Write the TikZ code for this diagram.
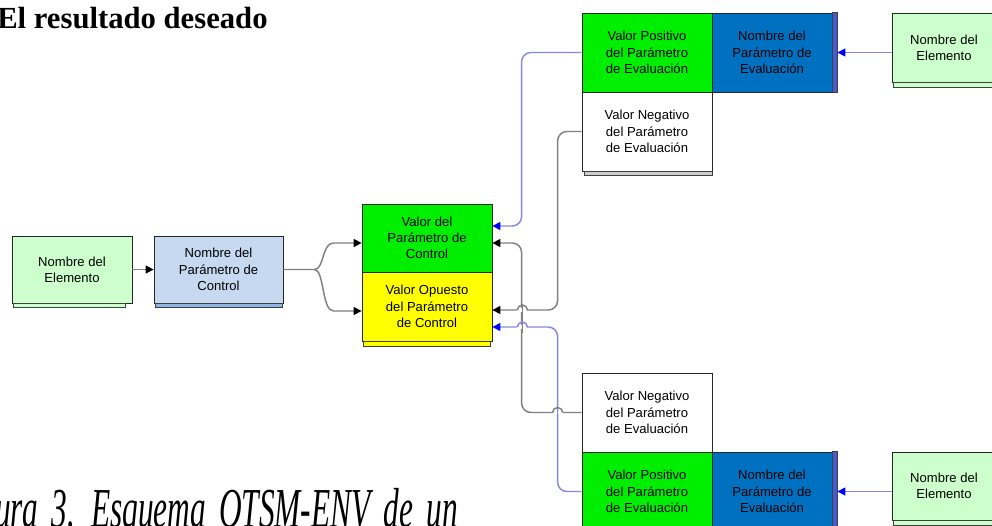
\documentclass[tikz,border=0pt]{standalone}
\usepackage{fontspec}
\setmainfont{Liberation Serif}
\newfontfamily\boxfont{Liberation Sans}
\usepackage{graphicx}
\usepackage{xcolor}
\usetikzlibrary{arrows.meta,calc}
\definecolor{otpale}{RGB}{204,255,204}
\definecolor{otsky}{RGB}{198,217,240}
\definecolor{otskydark}{RGB}{141,180,226}
\definecolor{otgreen}{RGB}{0,238,0}
\definecolor{otyellow}{RGB}{255,255,0}
\definecolor{otblue}{RGB}{0,112,192}
\definecolor{otindigo}{RGB}{70,90,210}
\definecolor{otline}{RGB}{128,128,128}
\definecolor{otlilac}{RGB}{135,135,225}
\tikzset{
  otbox/.style={draw=black!85, line width=0.6pt, inner sep=1pt, align=center,
    font=\boxfont\fontsize{9.8}{12.2}\selectfont},
  otelem/.style={otbox, fill=otpale},
  otctrl/.style={otbox, fill=otsky},
  otgreenbox/.style={otbox, fill=otgreen},
  otyellowbox/.style={otbox, fill=otyellow},
  otwhitebox/.style={otbox, fill=white},
  otbluebox/.style={otbox, fill=otblue},
  otshade/.style={draw=black!75, line width=0.5pt},
  otgreyline/.style={draw=otline, line width=1.1pt, rounded corners=7pt,
    -{Triangle[length=6pt,width=6pt,color=black]}},
  otlilacline/.style={draw=otlilac, line width=1.1pt, rounded corners=7pt,
    -{Triangle[length=6pt,width=6pt,color=blue]}},
  oterase/.style={draw=white, line width=2.6pt},
  othop/.style={line width=1.1pt},
}
\begin{document}
\begin{tikzpicture}[x=0.75pt,y=-0.75pt]
\useasboundingbox (0,0) rectangle (992,525);
\clip (0,0) rectangle (992,525);
% title and caption
\node[anchor=base west, inner sep=0pt, font=\bfseries\fontsize{23}{27}\selectfont] (title) at (-3,28) {El resultado deseado};
\node[anchor=base east, inner sep=0pt] (caption) at (458,527) {\scalebox{1}[1.8]{\itshape\fontsize{23.5}{28}\selectfont\spaceskip=0.42em Figura 3. Esquema OTSM-ENV de un}};
% boxes
\node[otelem, minimum width=90pt, minimum height=50.25pt] (elemL) at (72,269.5) {Nombre del\\Elemento};
\node[otctrl, minimum width=96.75pt, minimum height=50.25pt] (ctrl) at (218.5,269.5) {Nombre del\\Parámetro de\\Control};
\node[otgreenbox, minimum width=97.5pt, minimum height=51pt] (valCtrl) at (427,238) {Valor del\\Parámetro de\\Control};
\node[otyellowbox, minimum width=97.5pt, minimum height=51.75pt] (oppCtrl) at (427,306.5) {Valor Opuesto\\del Parámetro\\de Control};
\node[otgreenbox, minimum width=97.5pt, minimum height=59.25pt] (posTop) at (647,52.5) {Valor Positivo\\del Parámetro\\de Evaluación};
\node[otbluebox, minimum width=90pt, minimum height=59.25pt] (nameTop) at (772,52.5) {Nombre del\\Parámetro de\\Evaluación};
\node[otwhitebox, minimum width=97.5pt, minimum height=59.25pt] (negTop) at (647,131.5) {Valor Negativo\\del Parámetro\\de Evaluación};
\node[otelem, minimum width=78pt, minimum height=51.75pt] (elemTR) at (944,47.5) {Nombre del\\Elemento};
\node[otwhitebox, minimum width=97.5pt, minimum height=59.25pt] (negBot) at (647,412.5) {Valor Negativo\\del Parámetro\\de Evaluación};
\node[otgreenbox, minimum width=97.5pt, minimum height=59.25pt] (posBot) at (647,491.5) {Valor Positivo\\del Parámetro\\de Evaluación};
\node[otbluebox, minimum width=90pt, minimum height=59.25pt] (nameBot) at (772,491.5) {Nombre del\\Parámetro de\\Evaluación};
\node[otelem, minimum width=78pt, minimum height=51pt] (elemBR) at (944,486) {Nombre del\\Elemento};
% shadows
\filldraw[otshade, fill=otpale] ([xshift=1.5pt]elemL.south west) rectangle ([xshift=-5pt,yshift=-3pt]elemL.south east);
\filldraw[otshade, fill=otskydark] ([xshift=1.5pt]ctrl.south west) rectangle ([xshift=-1pt,yshift=-3pt]ctrl.south east);
\filldraw[otshade, fill=otyellow] ([xshift=1.5pt]oppCtrl.south west) rectangle ([xshift=-1.5pt,yshift=-3.5pt]oppCtrl.south east);
\filldraw[otshade, fill=black!20] ([xshift=2pt]negTop.south west) rectangle ([yshift=-3pt]negTop.south east);
\filldraw[otshade, fill=otindigo] (nameTop.north east) rectangle ([xshift=3.75pt]nameTop.south east);
\filldraw[otshade, fill=otindigo] (nameBot.north east) rectangle ([xshift=3.75pt]nameBot.south east);
\filldraw[otshade, fill=otpale] ([xshift=1.5pt]elemTR.south west) rectangle ([yshift=-3.5pt]elemTR.south east);
\filldraw[otshade, fill=otpale] ([xshift=1.5pt]elemBR.south west) rectangle ([yshift=-3.5pt]elemBR.south east);
% connectors
\draw[otgreyline] (elemL.east) -- (ctrl.west);
\draw[otgreyline, rounded corners=0pt] (ctrl.east) -- ++(31,0) coordinate (fork)
  .. controls +(10,0) and +(-12,0) .. ($(valCtrl.west)+(-28,5)$) -- ($(valCtrl.west)+(0,5)$);
\draw[otgreyline, rounded corners=0pt] (fork)
  .. controls +(10,0) and +(-12,0) .. ($(oppCtrl.west)+(-28,4.5)$) -- ($(oppCtrl.west)+(0,4.5)$);
\draw[otlilacline] (posTop.west) -- ++(-60,0) |- ($(valCtrl.east)+(0,-12)$);
\draw[otgreyline] (negTop.west) -- ++(-24,0) |- ($(oppCtrl.east)+(0,3.5)$);
\draw[otlilacline] (posBot.west) -- ++(-24,0) |- ($(oppCtrl.east)+(0,20.5)$);
\draw[otgreyline] (negBot.west) -- ++(-60,0) |- ($(valCtrl.east)+(0,5)$);
\draw[otlilacline] (elemTR.west |- nameTop.east) -- ([xshift=3.75pt]nameTop.east);
\draw[otlilacline] (elemBR.west |- nameBot.east) -- ([xshift=3.75pt]nameBot.east);
% line hops
\coordinate (hopB) at ($(oppCtrl.east)+(30,3.5)$);
\coordinate (hopD) at ($(oppCtrl.east)+(30,20.5)$);
\coordinate (hopC) at ($(negBot.west)+(-24,0)$);
\draw[oterase] ($(hopB)+(-5,0)$) -- ($(hopB)+(5,0)$);
\draw[oterase] ($(hopD)+(-5,0)$) -- ($(hopD)+(5,0)$);
\draw[oterase] ($(hopC)+(-5,0)$) -- ($(hopC)+(5,0)$);
\draw[othop, otline] ($(hopB)+(0,-6)$) -- ($(hopD)+(0,6)$);
\draw[othop, otlilac] ($(hopC)+(0,-6)$) -- ($(hopC)+(0,6)$);
\draw[othop, otline] ($(hopB)+(5,0)$) arc[start angle=0, end angle=-180, radius=5];
\draw[othop, otlilac] ($(hopD)+(5,0)$) arc[start angle=0, end angle=-180, radius=5];
\draw[othop, otline] ($(hopC)+(5,0)$) arc[start angle=0, end angle=-180, radius=5];
\end{tikzpicture}
\end{document}
